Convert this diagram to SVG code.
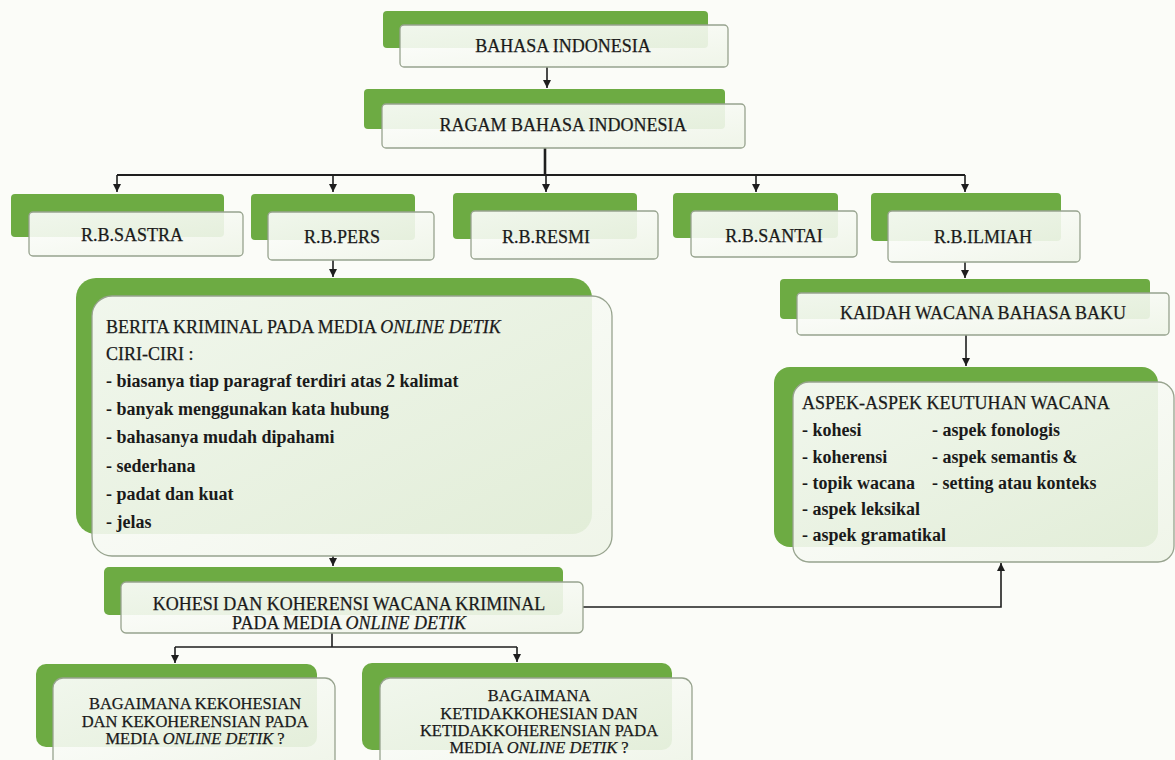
<svg xmlns="http://www.w3.org/2000/svg" width="1175" height="760" viewBox="0 0 1175 760">
  <defs>
    <linearGradient id="wg" x1="0" y1="0" x2="1" y2="1">
      <stop offset="0" stop-color="#ffffff"/>
      <stop offset="1" stop-color="#eef4e7"/>
    </linearGradient>
    <marker id="ah" viewBox="0 0 10 10" refX="10" refY="5" markerUnits="userSpaceOnUse" markerWidth="8" markerHeight="8" orient="auto">
      <path d="M0,0 L10,5 L0,10 z" fill="#1e1e1e"/>
    </marker>
    <style>
      .g { fill: #6dab43; }
      .w { fill: url(#wg); fill-opacity: 0.9; stroke: #97a38e; stroke-width: 1.3; }
      .t { font-family: "Liberation Serif", "Times New Roman", serif; font-size: 18px; fill: #1a1a1a; stroke: #1a1a1a; stroke-width: 0.25; }
      .s { font-size: 16.5px; }
      .c { text-anchor: middle; }
      .b { font-weight: bold; stroke-width: 0; }
      .i { font-style: italic; }
      .ln { fill: none; stroke: #1e1e1e; stroke-width: 1.6; }
    </style>
  </defs>

  <rect x="0" y="0" width="1175" height="760" fill="#fbfcf8"/>

  <g id="connectors">
    <line class="ln" x1="547" y1="67" x2="547" y2="88" marker-end="url(#ah)"/>
    <line class="ln" x1="545" y1="148" x2="545" y2="175" style="stroke-width:2.6"/>
    <line class="ln" x1="117" y1="175" x2="965" y2="175" style="stroke-width:1.8"/>
    <line class="ln" x1="117" y1="175" x2="117" y2="192" marker-end="url(#ah)"/>
    <line class="ln" x1="333" y1="175" x2="333" y2="192" marker-end="url(#ah)"/>
    <line class="ln" x1="546" y1="175" x2="546" y2="192" marker-end="url(#ah)"/>
    <line class="ln" x1="756" y1="175" x2="756" y2="192" marker-end="url(#ah)"/>
    <line class="ln" x1="965" y1="175" x2="965" y2="192" marker-end="url(#ah)"/>
    <line class="ln" x1="333" y1="260" x2="333" y2="277" marker-end="url(#ah)"/>
    <line class="ln" x1="965" y1="262" x2="965" y2="278" marker-end="url(#ah)"/>
    <line class="ln" x1="966" y1="335" x2="966" y2="366" marker-end="url(#ah)"/>
    <line class="ln" x1="333" y1="556" x2="333" y2="566" marker-end="url(#ah)"/>
    <polyline class="ln" points="583,607 1001,607 1001,563" marker-end="url(#ah)"/>
    <line class="ln" x1="332" y1="633" x2="332" y2="647"/>
    <line class="ln" x1="175" y1="647" x2="517" y2="647"/>
    <line class="ln" x1="175" y1="647" x2="175" y2="663" marker-end="url(#ah)"/>
    <line class="ln" x1="517" y1="647" x2="517" y2="662" marker-end="url(#ah)"/>
  </g>

  <g id="n-bahasa">
    <rect class="g" x="383" y="11" width="325" height="37" rx="4"/>
    <rect class="w" x="400" y="25" width="328" height="42" rx="4"/>
    <text class="t c" x="563" y="52">BAHASA INDONESIA</text>
  </g>

  <g id="n-ragam">
    <rect class="g" x="364" y="89" width="361" height="40" rx="4"/>
    <rect class="w" x="382" y="104" width="363" height="44" rx="4"/>
    <text class="t c" x="563" y="131">RAGAM BAHASA INDONESIA</text>
  </g>

  <g id="n-sastra">
    <rect class="g" x="11" y="194" width="213" height="43" rx="4"/>
    <rect class="w" x="29" y="212" width="214" height="44" rx="4"/>
    <text class="t c" x="132" y="241">R.B.SASTRA</text>
  </g>

  <g id="n-pers">
    <rect class="g" x="251" y="194" width="164" height="46" rx="4"/>
    <rect class="w" x="268" y="212" width="166" height="48" rx="4"/>
    <text class="t c" x="342" y="243">R.B.PERS</text>
  </g>

  <g id="n-resmi">
    <rect class="g" x="453" y="193" width="184" height="46" rx="4"/>
    <rect class="w" x="471" y="211" width="187" height="48" rx="4"/>
    <text class="t c" x="546" y="243">R.B.RESMI</text>
  </g>

  <g id="n-santai">
    <rect class="g" x="673" y="193" width="165" height="45" rx="4"/>
    <rect class="w" x="691" y="211" width="166" height="46" rx="4"/>
    <text class="t c" x="774" y="242">R.B.SANTAI</text>
  </g>

  <g id="n-ilmiah">
    <rect class="g" x="871" y="193" width="190" height="48" rx="4"/>
    <rect class="w" x="888" y="211" width="192" height="51" rx="4"/>
    <text class="t c" x="983" y="243">R.B.ILMIAH</text>
  </g>

  <g id="n-berita">
    <rect class="g" x="76" y="278" width="516" height="256" rx="20"/>
    <rect class="w" x="92" y="296" width="520" height="260" rx="20"/>
    <text class="t" x="106" y="333">BERITA KRIMINAL PADA MEDIA <tspan class="i">ONLINE DETIK</tspan></text>
    <text class="t" x="106" y="360">CIRI-CIRI :</text>
    <text class="t b" x="106" y="387">- biasanya tiap paragraf terdiri atas 2 kalimat</text>
    <text class="t b" x="106" y="415">- banyak menggunakan kata hubung</text>
    <text class="t b" x="106" y="443">- bahasanya mudah dipahami</text>
    <text class="t b" x="106" y="472">- sederhana</text>
    <text class="t b" x="106" y="500">- padat dan kuat</text>
    <text class="t b" x="106" y="528">- jelas</text>
  </g>

  <g id="n-kaidah">
    <rect class="g" x="780" y="279" width="370" height="40" rx="4"/>
    <rect class="w" x="797" y="293" width="372" height="42" rx="4"/>
    <text class="t c" x="983" y="319">KAIDAH WACANA BAHASA BAKU</text>
  </g>

  <g id="n-aspek">
    <rect class="g" x="774" y="367" width="384" height="180" rx="16"/>
    <rect class="w" x="793" y="382" width="381" height="180" rx="16"/>
    <text class="t" x="802" y="409">ASPEK-ASPEK KEUTUHAN WACANA</text>
    <text class="t b" x="802" y="436">- kohesi</text>
    <text class="t b" x="802" y="463">- koherensi</text>
    <text class="t b" x="802" y="489">- topik wacana</text>
    <text class="t b" x="802" y="515">- aspek leksikal</text>
    <text class="t b" x="802" y="541">- aspek gramatikal</text>
    <text class="t b" x="932" y="436">- aspek fonologis</text>
    <text class="t b" x="932" y="463">- aspek semantis &amp;</text>
    <text class="t b" x="932" y="489">- setting atau konteks</text>
  </g>

  <g id="n-kohesi">
    <rect class="g" x="104" y="567" width="459" height="48" rx="5"/>
    <rect class="w" x="121" y="582" width="462" height="51" rx="5"/>
    <text class="t c" x="349" y="610">KOHESI DAN KOHERENSI WACANA KRIMINAL</text>
    <text class="t c" x="349" y="629">PADA MEDIA <tspan class="i">ONLINE DETIK</tspan></text>
  </g>

  <g id="n-q1">
    <rect class="g" x="36" y="664" width="281" height="83" rx="10"/>
    <rect class="w" x="53" y="678" width="282" height="95" rx="10"/>
    <text class="t s c" x="195" y="709">BAGAIMANA KEKOHESIAN</text>
    <text class="t s c" x="195" y="726.5">DAN KEKOHERENSIAN PADA</text>
    <text class="t s c" x="195" y="744">MEDIA <tspan class="i">ONLINE DETIK</tspan> ?</text>
  </g>

  <g id="n-q2">
    <rect class="g" x="362" y="663" width="310" height="87" rx="10"/>
    <rect class="w" x="380" y="678" width="312" height="95" rx="10"/>
    <text class="t s c" x="539" y="701">BAGAIMANA</text>
    <text class="t s c" x="539" y="718.5">KETIDAKKOHESIAN DAN</text>
    <text class="t s c" x="539" y="736">KETIDAKKOHERENSIAN PADA</text>
    <text class="t s c" x="539" y="753">MEDIA <tspan class="i">ONLINE DETIK</tspan> ?</text>
  </g>
</svg>
